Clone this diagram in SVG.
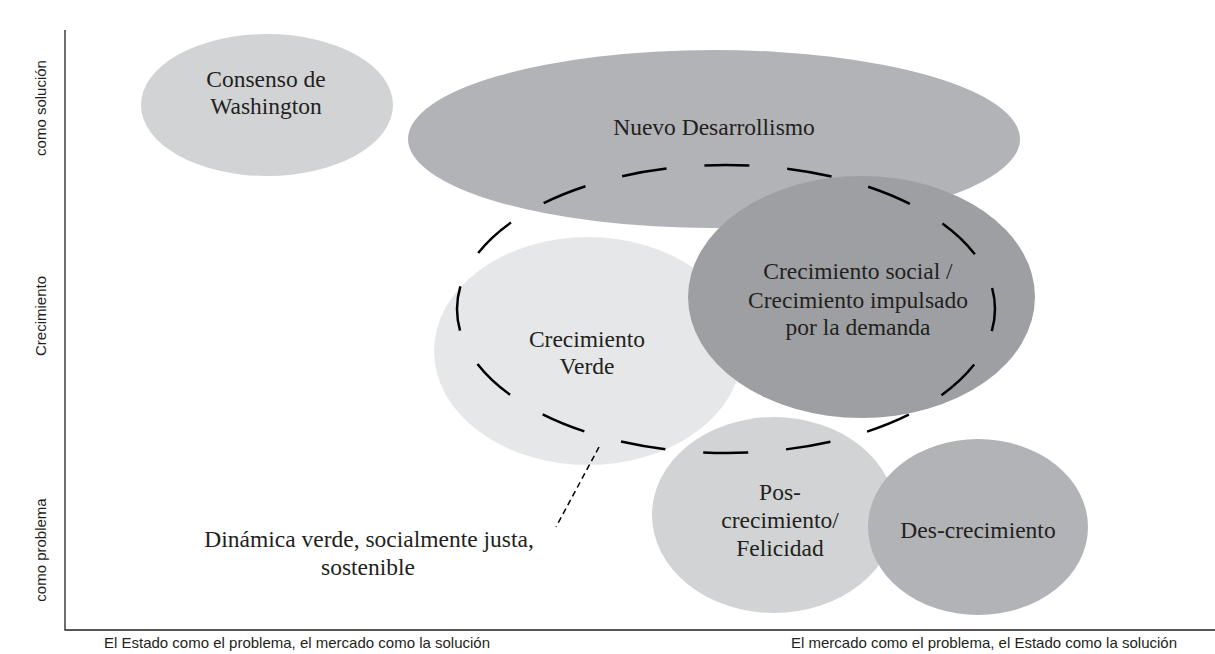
<svg xmlns="http://www.w3.org/2000/svg" width="1215" height="654" viewBox="0 0 1215 654">
<style>
.lbl{font-family:"Liberation Serif","Times New Roman",serif;font-size:23.5px;fill:#231f20;text-anchor:middle}
.ax{font-family:"Liberation Sans",Arial,sans-serif;font-size:15px;fill:#231f20}
.axis{stroke:#231f20;stroke-width:1.3;fill:none}
.c1{fill:#d1d3d4}.c2{fill:#b1b3b6}.c3{fill:#9d9fa2}.c4{fill:#e6e7e8}
</style>
<rect width="1215" height="654" fill="#ffffff"/>
<g id="axes">
<path class="axis" d="M65,30 V630 H1215"/>
<text class="ax" transform="translate(46,108) rotate(-90)" text-anchor="middle">como solución</text>
<text class="ax" transform="translate(46,316) rotate(-90)" text-anchor="middle">Crecimiento</text>
<text class="ax" transform="translate(46,550) rotate(-90)" text-anchor="middle">como problema</text>
<text class="ax" x="104" y="648">El Estado como el problema, el mercado como la solución</text>
<text class="ax" x="1177" y="648" text-anchor="end">El mercado como el problema, el Estado como la solución</text>
</g>
<g id="consenso">
<ellipse class="c1" cx="267" cy="105" rx="126" ry="71"/>
<text class="lbl" x="266" y="87">Consenso de</text>
<text class="lbl" x="266" y="114">Washington</text>
</g>
<g id="nuevo">
<ellipse class="c2" cx="714" cy="139" rx="306" ry="89"/>
<text class="lbl" x="714" y="135">Nuevo Desarrollismo</text>
</g>
<g id="verde">
<ellipse class="c4" cx="588" cy="351" rx="154" ry="114"/>
<text class="lbl" x="587" y="347">Crecimiento</text>
<text class="lbl" x="587" y="374">Verde</text>
</g>
<g id="social">
<ellipse class="c3" cx="861.5" cy="297" rx="173.5" ry="121"/>
<text class="lbl" x="858" y="279">Crecimiento social /</text>
<text class="lbl" x="858" y="308">Crecimiento impulsado</text>
<text class="lbl" x="858" y="335">por la demanda</text>
</g>
<g id="poscrecimiento">
<ellipse class="c1" cx="774" cy="515" rx="122" ry="98"/>
<text class="lbl" x="780" y="500">Pos-</text>
<text class="lbl" x="780" y="528">crecimiento/</text>
<text class="lbl" x="780" y="556">Felicidad</text>
</g>
<g id="descrecimiento">
<ellipse class="c2" cx="978" cy="527" rx="110" ry="88"/>
<text class="lbl" x="978" y="538">Des-crecimiento</text>
</g>
<g id="dinamica">
<ellipse cx="726" cy="309" rx="269" ry="144" fill="none" stroke="#000" stroke-width="2.5" stroke-dasharray="45 38" stroke-dashoffset="22.5"/>
<text class="lbl" x="369" y="547">Dinámica verde, socialmente justa,</text>
<text class="lbl" x="368" y="575">sostenible</text>
</g>
<g id="connectors">
<line x1="599" y1="447" x2="556" y2="527" stroke="#000" stroke-width="1.5" stroke-dasharray="6 4"/>
</g>
</svg>
